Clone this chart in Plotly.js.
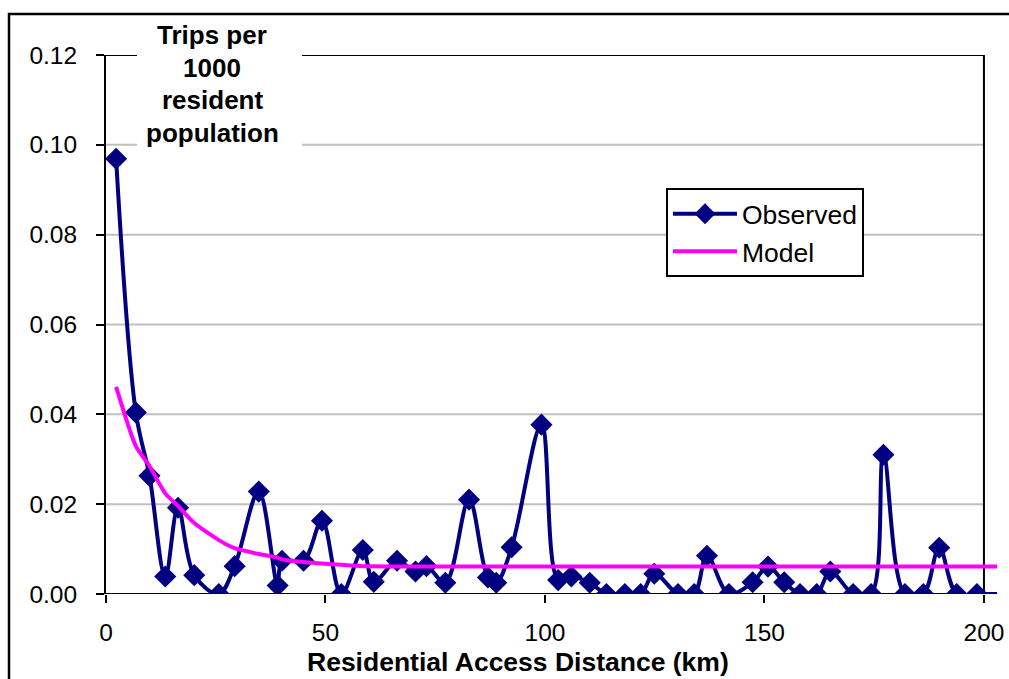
<!DOCTYPE html>
<html>
<head>
<meta charset="utf-8">
<script src="https://cdn.plot.ly/plotly-3.0.1.min.js"></script>
<style>
  html, body { margin: 0; padding: 0; background: #ffffff; }
  #chart { width: 1009px; height: 679px; }
</style>
</head>
<body>
<div id="chart"></div>
<script>
// Residential access distance (km) for each distance band
const distanceKm = [
  2.3, 6.8, 9.9, 13.5, 16.4, 20.1, 25.7, 29.3, 34.8, 39.1,
  40.1, 45.0, 49.2, 53.6, 58.5, 61.0, 66.3, 70.5, 73.0, 77.3,
  82.7, 87.0, 88.9, 92.4, 99.2, 103.0, 106.0, 110.2, 114.0, 118.2,
  121.8, 124.9, 130.3, 134.0, 136.9, 141.9, 147.3, 150.8, 154.5, 158.1,
  161.9, 165.0, 170.2, 174.3, 177.1, 182.0, 186.2, 189.8, 193.8, 198.4,
  203.0
];

// Observed trips per 1000 resident population
const observedTrips = [
  0.0969, 0.0404, 0.0263, 0.0039, 0.0192, 0.0042, 0.0000, 0.0062, 0.0228, 0.0019,
  0.0074, 0.0074, 0.0163, 0.0000, 0.0098, 0.0027, 0.0074, 0.0050, 0.0062, 0.0025,
  0.0210, 0.0037, 0.0025, 0.0104, 0.0377, 0.0031, 0.0039, 0.0025, 0.0000, 0.0000,
  0.0000, 0.0045, 0.0000, 0.0000, 0.0085, 0.0000, 0.0026, 0.0061, 0.0026, 0.0000,
  0.0000, 0.0050, 0.0000, 0.0000, 0.0310, 0.0000, 0.0000, 0.0103, 0.0000, 0.0000,
  0.0000
];

// Fitted model trips per 1000 resident population
const modelTrips = [
  0.0461, 0.0329, 0.0285, 0.0224, 0.0196, 0.0158, 0.0120, 0.0102, 0.0089, 0.0081,
  0.0077, 0.0071, 0.0068, 0.0065, 0.0062, 0.0062, 0.0061, 0.0061, 0.0061, 0.0061,
  0.0061, 0.0061, 0.0061, 0.0061, 0.0061, 0.0061, 0.0061, 0.0061, 0.0061, 0.0061,
  0.0061, 0.0061, 0.0061, 0.0061, 0.0061, 0.0061, 0.0061, 0.0061, 0.0061, 0.0061,
  0.0061, 0.0061, 0.0061, 0.0061, 0.0061, 0.0061, 0.0061, 0.0061, 0.0061, 0.0061,
  0.0061
];

// Axis ticks
const xTicks = [0, 50, 100, 150, 200];
const yTicks = [0, 0.02, 0.04, 0.06, 0.08, 0.10, 0.12];

const seriesNames = ['Observed', 'Model'];
const yAxisLabel = ['Trips per', '1000', 'resident', 'population'];
const xAxisLabel = 'Residential Access Distance (km)';

// ---------------------------------------------------------------------------
const FONT = 'Liberation Sans, Arial, Helvetica, sans-serif';
const NAVY = '#000080';
const MAGENTA = '#ff00ff';

const xMax = xTicks[xTicks.length - 1];
const yMax = yTicks[yTicks.length - 1];

// Plot box in pixels, used to place the frame pieces that sit outside it
const M = { l: 106, r: 11, t: 55, b: 85 };
const plotW = 1009 - M.l - M.r;
const plotH = 679 - M.t - M.b;
const px2paperX = p => (p - M.l) / plotW;
const px2paperY = p => (679 - M.b - p) / plotH;

// Markers past the last labelled distance are left invisible
const markerColors = distanceKm.map(d => (d > xMax ? 'rgba(0,0,0,0)' : NAVY));

const traces = [
  {
    x: distanceKm,
    y: observedTrips,
    name: seriesNames[0],
    type: 'scatter',
    mode: 'lines+markers',
    line: { color: NAVY, width: 4, shape: 'spline', smoothing: 1 },
    marker: { symbol: 'diamond', size: 17, color: markerColors, line: { width: 0 } }
  },
  {
    x: distanceKm,
    y: modelTrips,
    name: seriesNames[1],
    type: 'scatter',
    mode: 'lines',
    line: { color: MAGENTA, width: 4, shape: 'spline', smoothing: 0.6 }
  }
];

// Horizontal gridlines stop at the right edge of the frame
const shapes = yTicks.slice(1, -1).map(v => ({
  type: 'line', xref: 'x', yref: 'y', layer: 'below',
  x0: 0, x1: xMax, y0: v, y1: v,
  line: { color: '#c0c0c0', width: 2 }
}));

// Frame: x axis, top edge, right edge
shapes.push(
  { type: 'line', xref: 'x', yref: 'y', layer: 'below', x0: 0, x1: xMax, y0: 0, y1: 0,
    line: { color: '#000', width: 2 } },
  { type: 'line', xref: 'x', yref: 'y', layer: 'below', x0: 0, x1: xMax, y0: yMax, y1: yMax,
    line: { color: '#000', width: 2 } },
  { type: 'line', xref: 'x', yref: 'y', layer: 'below', x0: xMax, x1: xMax, y0: 0, y1: yMax,
    line: { color: '#000', width: 2 } }
);

// White panel behind the vertical axis label
shapes.push({
  type: 'rect', xref: 'paper', yref: 'paper', layer: 'above',
  x0: px2paperX(137), x1: px2paperX(302), y0: px2paperY(147), y1: px2paperY(16),
  fillcolor: '#ffffff', line: { width: 0 }
});

// Outer chart border
shapes.push({
  type: 'rect', xref: 'paper', yref: 'paper', layer: 'above',
  x0: px2paperX(9), x1: px2paperX(1020), y0: px2paperY(690), y1: px2paperY(14),
  fillcolor: 'rgba(0,0,0,0)', line: { color: '#000', width: 2.5 }
});

// Vertical axis label: one annotation per line, 32.5 px apart
const labelLines = yAxisLabel.map((line, i) => ({
  xref: 'paper', yref: 'paper',
  x: px2paperX(212), y: px2paperY(35 + i * 32.5),
  xanchor: 'center', yanchor: 'middle',
  text: '<b>' + line + '</b>',
  showarrow: false,
  font: { family: FONT, size: 26, color: '#000' }
}));

const layout = {
  width: 1009,
  height: 679,
  margin: { l: M.l, r: M.r, t: M.t, b: M.b, pad: 0 },
  paper_bgcolor: '#ffffff',
  plot_bgcolor: '#ffffff',
  font: { family: FONT, color: '#000' },
  showlegend: true,
  legend: {
    x: px2paperX(666), y: px2paperY(188),
    xanchor: 'left', yanchor: 'top',
    bgcolor: '#ffffff', bordercolor: '#000', borderwidth: 2,
    font: { family: FONT, size: 26.5, color: '#000' },
    itemwidth: 64,
    tracegroupgap: 0
  },
  xaxis: {
    range: [0, 203.2],
    tickvals: xTicks,
    ticktext: xTicks.map(String),
    ticks: 'outside', ticklen: 8, tickwidth: 2, tickcolor: '#000',
    ticklabelstandoff: 9,
    showgrid: false, zeroline: false, showline: false,
    tickfont: { family: FONT, size: 24.5, color: '#000' },
    fixedrange: true
  },
  yaxis: {
    range: [0, yMax],
    tickvals: yTicks,
    tickformat: '.2f',
    ticks: 'outside', ticklen: 8, tickwidth: 2, tickcolor: '#000',
    ticklabelstandoff: 14,
    showgrid: false, zeroline: false,
    showline: true, linecolor: '#000', linewidth: 2,
    tickfont: { family: FONT, size: 24.5, color: '#000' },
    fixedrange: true
  },
  shapes: shapes,
  annotations: labelLines.concat([
    {
      // horizontal axis label
      xref: 'paper', yref: 'paper',
      x: px2paperX(518), y: px2paperY(662),
      xanchor: 'center', yanchor: 'middle',
      text: '<b>' + xAxisLabel + '</b>',
      showarrow: false,
      font: { family: FONT, size: 26.5, color: '#000' }
    }
  ])
};

Plotly.newPlot('chart', traces, layout, { staticPlot: true, displayModeBar: false });
</script>
</body>
</html>
